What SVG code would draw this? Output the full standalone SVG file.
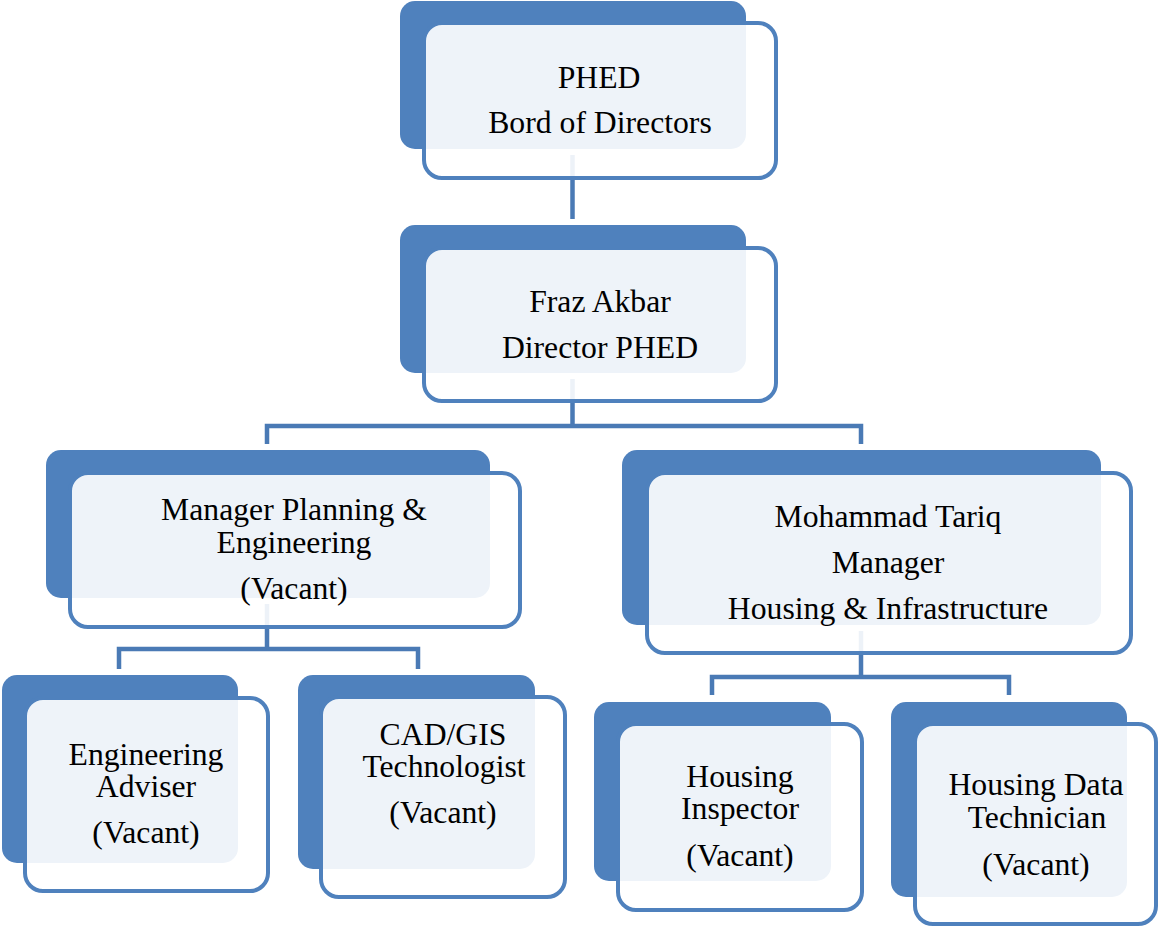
<svg xmlns="http://www.w3.org/2000/svg" width="1159" height="927" viewBox="0 0 1159 927">
<style>
.back{fill:#4F81BD}
.front{fill:#FFFFFF;fill-opacity:0.9;stroke:#4F81BD;stroke-width:4}
.conn{fill:none;stroke:#4A7AB5;stroke-width:4.5;stroke-linejoin:miter}
text{font-family:"Liberation Serif","Times New Roman",serif;font-size:31.7px;fill:#000;text-anchor:middle}
</style>
<rect width="1159" height="927" fill="#FFFFFF"/>
<g id="connectors">
<path class="conn" d="M572.5 155 V219"/>
<path class="conn" d="M572.5 379 V426 M267 444 V426 H861 V444"/>
<path class="conn" d="M267 604 V649 M119 669 V649 H418 V669"/>
<path class="conn" d="M861 631 V677 M712 695 V677 H1009 V695"/>
</g>
<g id="node-board">
<rect class="back" x="400" y="1" width="346" height="148" rx="15"/>
<rect class="front" x="424" y="23" width="352" height="155" rx="18"/>
<text x="599" y="88">PHED</text>
<text x="600" y="133">Bord of Directors</text>
</g>
<g id="node-director">
<rect class="back" x="400" y="225" width="346" height="148" rx="15"/>
<rect class="front" x="424" y="248" width="352" height="153" rx="18"/>
<text x="600" y="312">Fraz Akbar</text>
<text x="600" y="358">Director PHED</text>
</g>
<g id="node-planning">
<rect class="back" x="46" y="450" width="444" height="148" rx="15"/>
<rect class="front" x="70" y="473" width="450" height="154" rx="18"/>
<text x="294" y="520">Manager Planning &amp;</text>
<text x="294" y="553">Engineering</text>
<text x="294" y="599">(Vacant)</text>
</g>
<g id="node-housing-manager">
<rect class="back" x="622" y="450" width="479" height="175" rx="15"/>
<rect class="front" x="647" y="473" width="484" height="180" rx="18"/>
<text x="888" y="527">Mohammad Tariq</text>
<text x="888" y="573">Manager</text>
<text x="888" y="619">Housing &amp; Infrastructure</text>
</g>
<g id="node-eng-adviser">
<rect class="back" x="2" y="675" width="236" height="188" rx="15"/>
<rect class="front" x="25" y="698" width="243" height="193" rx="18"/>
<text x="146" y="765">Engineering</text>
<text x="146" y="797">Adviser</text>
<text x="146" y="843">(Vacant)</text>
</g>
<g id="node-cad-gis">
<rect class="back" x="298" y="675" width="237" height="194" rx="15"/>
<rect class="front" x="321" y="697" width="244" height="200" rx="18"/>
<text x="443" y="745">CAD/GIS</text>
<text x="444" y="777">Technologist</text>
<text x="443" y="823">(Vacant)</text>
</g>
<g id="node-housing-inspector">
<rect class="back" x="594" y="702" width="237" height="179" rx="15"/>
<rect class="front" x="618" y="724" width="244" height="186" rx="18"/>
<text x="740" y="787">Housing</text>
<text x="740" y="819">Inspector</text>
<text x="740" y="866">(Vacant)</text>
</g>
<g id="node-housing-data">
<rect class="back" x="891" y="702" width="236" height="195" rx="15"/>
<rect class="front" x="915" y="724" width="241" height="200" rx="18"/>
<text x="1036" y="795">Housing Data</text>
<text x="1037" y="828">Technician</text>
<text x="1036" y="875">(Vacant)</text>
</g>
</svg>
